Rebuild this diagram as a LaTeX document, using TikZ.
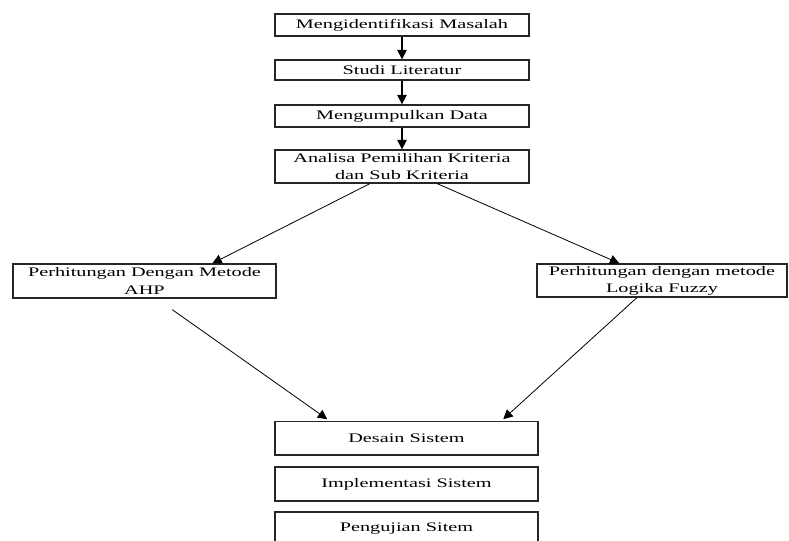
\documentclass[tikz,border=0pt]{standalone}
\usepackage{fontspec}
\setmainfont{Liberation Serif}[FakeStretch=1.55]
\usetikzlibrary{calc,arrows.meta}
\begin{document}
\begin{tikzpicture}[x=0.75pt,y=-0.75pt,
    kotak/.style={draw=black!85,line width=1pt,inner sep=0pt,align=center,
      font=\fontsize{9.8}{12.8}\selectfont},
    panah/.style={-{Triangle[length=7pt,width=7pt]},line width=0.6pt}]
  \useasboundingbox (0,0) rectangle (789,541);
  \clip (0,0) rectangle (789,541);
  \node[kotak,minimum width=190.5pt,minimum height=16.5pt] (m1) at (402,25) {Mengidentifikasi Masalah};
  \node[kotak,minimum width=190.5pt,minimum height=15pt] (m2) at (402,70) {Studi Literatur};
  \node[kotak,minimum width=190.5pt,minimum height=16.5pt] (m3) at (402,116) {Mengumpulkan Data};
  \node[kotak,minimum width=190.5pt,minimum height=24.75pt] (m4) at (402,166.5) {Analisa Pemilihan Kriteria\\dan Sub Kriteria};
  \node[kotak,minimum width=197.25pt,minimum height=25.5pt] (ahp) at (144.5,281) {Perhitungan Dengan Metode\\AHP};
  \node[kotak,minimum width=187.5pt,minimum height=24.75pt] (fuzzy) at (662,280.5) {Perhitungan dengan metode\\Logika Fuzzy};
  \node[kotak,minimum width=197.25pt,minimum height=25pt] (desain) at (406.5,438.5) {Desain Sistem};
  \node[kotak,minimum width=197.25pt,minimum height=25.5pt] (impl) at (406.5,484) {Implementasi Sistem};
  \node[kotak,minimum width=197.25pt,minimum height=25.5pt] (uji) at (406.5,529) {Pengujian Sitem};
  \foreach \a/\b in {m1/m2,m2/m3,m3/m4}
    \draw[panah,line width=1pt] (\a) -- (\b);
  \draw[panah] ($(m4.south west)!0.374!(m4.south east)$) -- ($(ahp.north west)!0.757!(ahp.north east)$);
  \draw[panah] ($(m4.south west)!0.638!(m4.south east)$) -- ($(fuzzy.north west)!0.33!(fuzzy.north east)$);
  \draw[panah] ($(ahp.south west)!0.605!(ahp.south east)+(0,11)$) -- ($(desain.north west)!0.2!(desain.north east)+(0,-2)$);
  \draw[panah] ($(fuzzy.south west)!0.4!(fuzzy.south east)$) -- ($(desain.north west)!0.866!(desain.north east)+(0,-2)$);
\end{tikzpicture}
\end{document}
